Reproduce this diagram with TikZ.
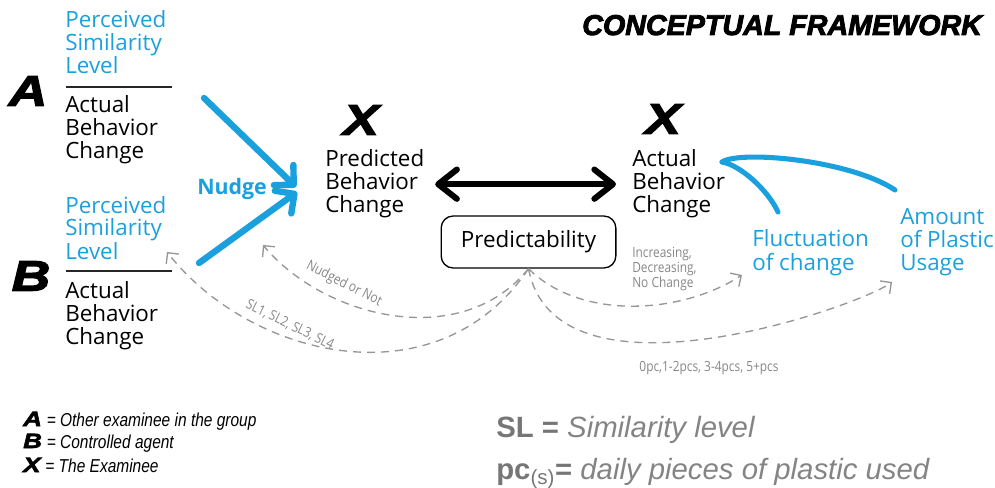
\documentclass[tikz,border=0pt]{standalone}
\usepackage{fontspec}
\setmainfont{Open Sans}
\newfontfamily\heavyfont{Liberation Sans}[BoldItalicFeatures={FakeBold=3}]
\newfontfamily\widefont{Liberation Sans}[BoldItalicFeatures={FakeBold=3,FakeStretch=1.25}]
\newfontfamily\narrowfont{Liberation Sans}[FakeStretch=0.83]
\newfontfamily\notefont{Open Sans}[FakeStretch=0.85]
\newfontfamily\keyfont{Liberation Sans}
\usetikzlibrary{arrows.meta}

\definecolor{nudgeblue}{RGB}{27,160,222}
\definecolor{dashgray}{RGB}{150,150,150}
\definecolor{notegray}{RGB}{135,135,135}
\definecolor{keygray}{RGB}{118,118,118}
\definecolor{keylight}{RGB}{132,132,132}

\begin{document}
\begin{tikzpicture}[x=0.75pt,y=0.75pt,yscale=-1,
  body/.style={font=\fontsize{16.8}{17.25}\selectfont, align=left, inner sep=0pt, anchor=base west},
  bigletter/.style={font=\widefont\bfseries\itshape\fontsize{32}{32}\selectfont, inner sep=0pt},
  keyline/.style={anchor=base west, inner sep=0pt, font=\fontsize{14}{14}\selectfont},
  note/.style={font=\notefont\fontsize{10.5}{10.9}\selectfont, text=notegray, inner sep=0pt},
  nudgearrow/.style={draw=nudgeblue, line width=4.8pt, line cap=round, -{Straight Barb[length=10.5pt,width=21pt,round]}},
  curl/.style={draw=nudgeblue, line width=3.8pt, line cap=round},
  feedback/.style={draw=dashgray, line width=1pt, dash pattern=on 6pt off 4.5pt, -{Straight Barb[length=6pt,width=12pt]}},
  rule/.style={draw=black!85, line width=1pt}]
\useasboundingbox (0,0) rectangle (995,488);

% Title
\node (title) at (582,35) [anchor=base west, inner sep=0pt, font=\heavyfont\bfseries\itshape\fontsize{21.5}{21.5}\selectfont] {CONCEPTUAL FRAMEWORK};

% Group letters
\node (letA) at (28,91) [bigletter] {A};
\node (letB) at (31,276) [bigletter] {B};
\node (letXp) at (361,120) [bigletter] {X};
\node (letXa) at (663,119) [bigletter] {X};

% Left blocks A and B (base = last line)
\node (percA) at (65,74) [body, text=nudgeblue] {Perceived\\Similarity\\Level};
\draw [rule] (66,87) -- (172,87);
\node (actA) at (65,159) [body] {Actual\\Behavior\\Change};
\node (percB) at (65,259) [body, text=nudgeblue] {Perceived\\Similarity\\Level};
\draw [rule] (66,271) -- (172,271);
\node (actB) at (65,344) [body] {Actual\\Behavior\\Change};

% Examinee blocks
\node (pred) at (325,213) [body] {Predicted\\Behavior\\Change};
\node (actX) at (632,213) [body] {Actual\\Behavior\\Change};
\node (fluct) at (752,270) [body, text=nudgeblue] {Fluctuation\\of change};
\node (amount) at (900,271) [body, text=nudgeblue] {Amount\\of Plastic\\Usage};
\node (nudge) at (197,195) [anchor=base west, inner sep=0pt, font=\bfseries\fontsize{16}{16}\selectfont, text=nudgeblue] {Nudge};
\node (predict) at (528.5,242) [draw, line width=1pt, rounded corners=9pt, minimum width=131pt, minimum height=39pt, inner sep=0pt, font=\fontsize{16.8}{17.25}\selectfont] {Predictability};

% Nudge arrows
\coordinate (fromA) at (204,98);
\coordinate (toPredA) at (296,187);
\coordinate (fromB) at (199,263);
\coordinate (toPredB) at (297,192);
\draw [nudgearrow] (fromA) -- (toPredA);
\draw [nudgearrow] (fromB) -- (toPredB);

% Prediction vs actual
\draw [line width=4.5pt, line cap=round, {Straight Barb[length=14pt,width=22pt,round]}-{Straight Barb[length=14pt,width=22pt,round]}, shorten <=8pt, shorten >=12pt] (pred.east) -- (actX.west);

% Measures of actual change
\coordinate (curlStart) at (722,162);
\coordinate (curlFluct) at (778,212);
\coordinate (curlAmount) at (895,190);
\draw [curl] (curlStart) .. controls (740,165) and (768,190) .. (curlFluct);
\draw [curl] (curlStart) .. controls (740,150) and (850,160) .. (curlAmount);

% Feedback from predictability
\coordinate (tipPred) at (263,245);
\coordinate (tipPercB) at (167,252);
\coordinate (tipFluct) at (742,275);
\coordinate (tipAmount) at (892,282);
\draw [feedback] (predict.south) .. controls (461,352) and (324,318) .. (tipPred);
\draw [feedback] (predict.south) .. controls (438,403) and (251,359) .. (tipPercB);
\draw [feedback] (predict.south) .. controls (580,320) and (680,315) .. (tipFluct);
\draw [feedback] (predict.south) .. controls (556,413) and (860,306) .. (tipAmount);

% Feedback labels
\node (nudgedNote) at (344,284) [note, rotate=-27] {Nudged or Not};
\node (levelNote) at (290,325) [note, rotate=-26] {SL1, SL2, SL3, SL4};
\node (trendNote) at (632,287) [note, anchor=base west, align=left] {Increasing,\\Decreasing,\\No Change};
\node (pcsNote) at (709,371) [note, anchor=base] {0pc,1-2pcs, 3-4pcs, 5+pcs};

% Keys
\node (keyA) at (23,426) [keyline] {{\widefont\bfseries\itshape\fontsize{15.5}{15.5}\selectfont A} {\narrowfont\itshape = Other examinee in the group}};
\node (keyB) at (23,448) [keyline] {{\widefont\bfseries\itshape\fontsize{15.5}{15.5}\selectfont B} {\narrowfont\itshape = Controlled agent}};
\node (keyX) at (23,472) [keyline] {{\widefont\bfseries\itshape\fontsize{15.5}{15.5}\selectfont X} {\narrowfont\itshape = The Examinee}};
\node (keySL) at (496,437) [anchor=base west, inner sep=0pt, font=\keyfont\fontsize{22}{22}\selectfont, text=keygray] {\textbf{SL =} {\itshape\color{keylight}Similarity level}};
\node (keyPC) at (496,479) [anchor=base west, inner sep=0pt, font=\keyfont\fontsize{22}{22}\selectfont, text=keygray] {\textbf{pc}\textsubscript{(s)}\textbf{=} {\itshape\color{keylight}daily pieces of plastic used}};

\end{tikzpicture}
\end{document}
